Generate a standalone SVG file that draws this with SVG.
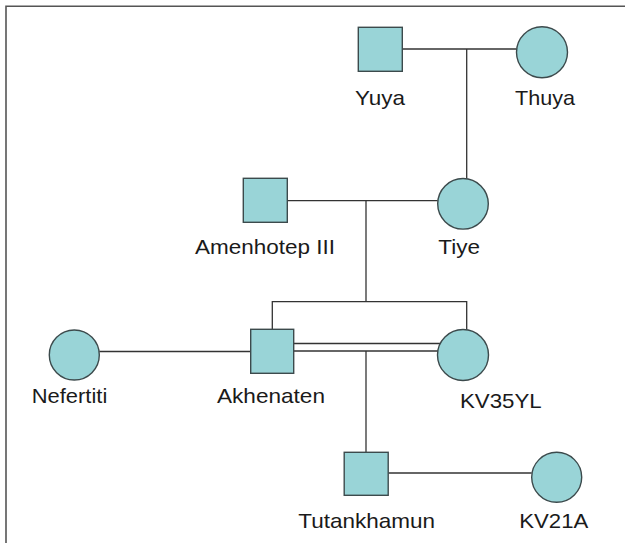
<svg xmlns="http://www.w3.org/2000/svg" width="625" height="543" viewBox="0 0 625 543">
<style>
.n{fill:#99d4d7;stroke:#3c4a4c;stroke-width:1.4}
.c{fill:none;stroke:#333;stroke-width:1.3}
.t{font-family:"Liberation Sans",Arial,sans-serif;font-size:21px;fill:#1a1a1a}
</style>
<rect width="625" height="543" fill="#fff"/>
<path d="M6,543 V6.3 H625" fill="none" stroke="#555" stroke-width="1.6"/>
<g id="connectors" class="c">
<line x1="402" y1="49" x2="516.5" y2="49"/>
<line x1="466.7" y1="49" x2="466.7" y2="178.5"/>
<line x1="287.3" y1="200.7" x2="437.7" y2="200.7"/>
<line x1="366" y1="200.7" x2="366" y2="301.7"/>
<polyline points="272.3,329.3 272.3,301.7 466.7,301.7 466.7,329.8"/>
<line x1="99.3" y1="351.5" x2="250.7" y2="351.5"/>
<line x1="293.7" y1="343.5" x2="440.2" y2="343.5"/>
<line x1="293.7" y1="351" x2="437.8" y2="351"/>
<line x1="366" y1="351" x2="366" y2="452.3"/>
<line x1="388.3" y1="473" x2="531.7" y2="473"/>
</g>
<g id="yuya"><rect class="n" x="358.3" y="27.3" width="44" height="44"/><text class="t" x="355" y="105" textLength="50" lengthAdjust="spacingAndGlyphs">Yuya</text></g>
<g id="thuya"><circle class="n" cx="542" cy="52.3" r="25.5"/><text class="t" x="515" y="105" textLength="60" lengthAdjust="spacingAndGlyphs">Thuya</text></g>
<g id="amenhotep"><rect class="n" x="243.3" y="178.3" width="44" height="44"/><text class="t" x="195" y="254" textLength="140" lengthAdjust="spacingAndGlyphs">Amenhotep III</text></g>
<g id="tiye"><circle class="n" cx="463" cy="203.8" r="25.3"/><text class="t" x="438.3" y="254" textLength="41.7" lengthAdjust="spacingAndGlyphs">Tiye</text></g>
<g id="nefertiti"><circle class="n" cx="74.3" cy="355" r="25"/><text class="t" x="31.7" y="403.3" textLength="75.6" lengthAdjust="spacingAndGlyphs">Nefertiti</text></g>
<g id="akhenaten"><rect class="n" x="250.7" y="329.3" width="43" height="44"/><text class="t" x="217" y="403.3" textLength="108" lengthAdjust="spacingAndGlyphs">Akhenaten</text></g>
<g id="kv35yl"><circle class="n" cx="463" cy="355" r="25.5"/><text class="t" x="460" y="408" textLength="81.7" lengthAdjust="spacingAndGlyphs">KV35YL</text></g>
<g id="tutankhamun"><rect class="n" x="344.2" y="452.3" width="44" height="43"/><text class="t" x="298.3" y="528.3" textLength="136.7" lengthAdjust="spacingAndGlyphs">Tutankhamun</text></g>
<g id="kv21a"><circle class="n" cx="556.7" cy="477.3" r="25"/><text class="t" x="519.3" y="528.3" textLength="69" lengthAdjust="spacingAndGlyphs">KV21A</text></g>
</svg>
